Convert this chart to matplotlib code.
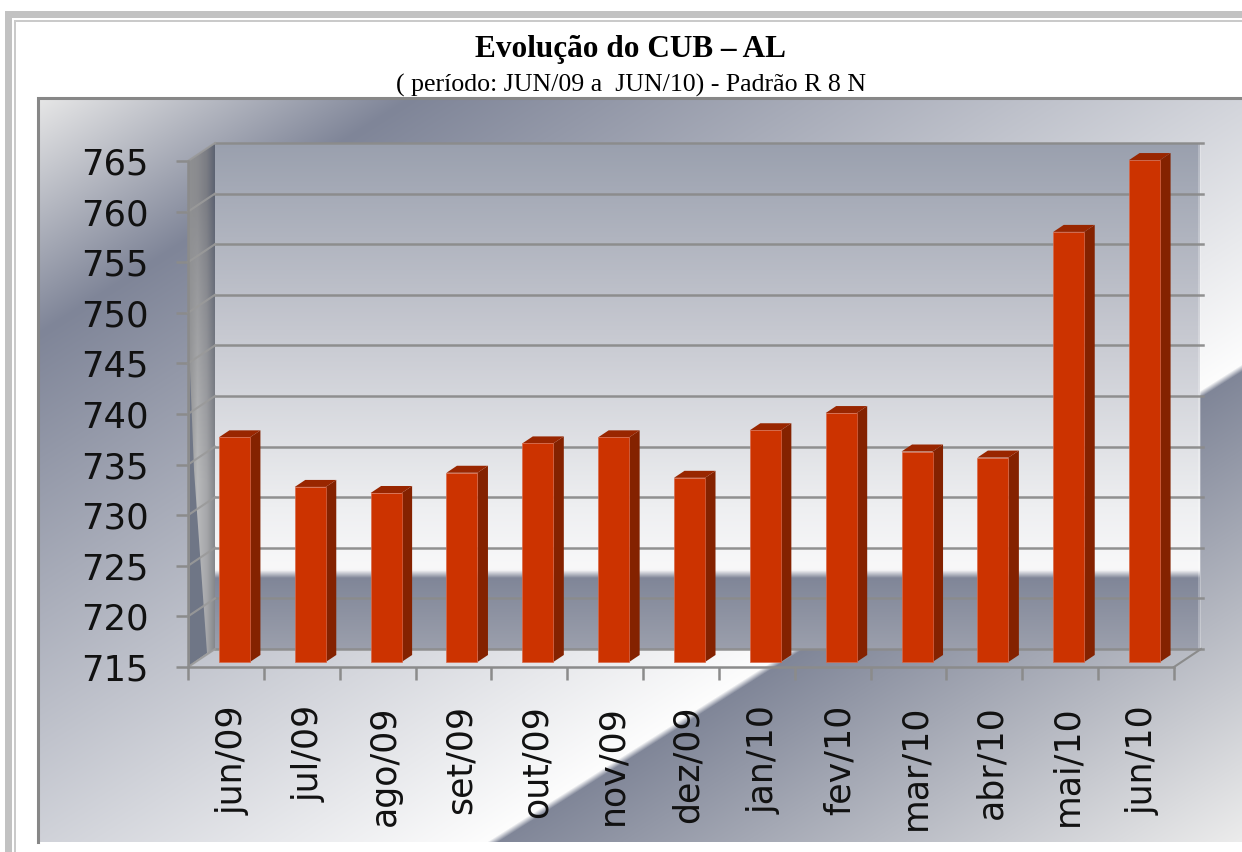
#!/usr/bin/env python3
"""Evolucao do CUB - AL: fake 3D bar chart on an Office style metal background."""
import numpy as np
import matplotlib
matplotlib.use("Agg")
import matplotlib.pyplot as plt
from matplotlib.colors import LinearSegmentedColormap, to_rgb
from matplotlib.patches import Polygon, Rectangle
from matplotlib.transforms import Affine2D

W, H = 1242, 852

months = ["jun/09", "jul/09", "ago/09", "set/09", "out/09", "nov/09", "dez/09",
          "jan/10", "fev/10", "mar/10", "abr/10", "mai/10", "jun/10"]
values = [737.2, 732.3, 731.7, 733.7, 736.6, 737.2, 733.2,
          737.9, 739.6, 735.8, 735.2, 757.5, 764.6]
y_ticks = [715, 720, 725, 730, 735, 740, 745, 750, 755, 760, 765]

# pixel layout of the front plane of the plot
AX_L, AX_R, AX_T, AX_B = 188, 1174, 161, 667
DEPTH_X, DEPTH_Y = 27, 18
GRID = "#8b8b8b"


def ramp(stops):
    return LinearSegmentedColormap.from_list("r", stops, N=512)


fig = plt.figure(figsize=(W / 100, H / 100), dpi=100, facecolor="white")
bg = fig.add_axes([0, 0, 1, 1])
bg.set_xlim(0, W)
bg.set_ylim(H, 0)
bg.axis("off")

# page frame
bg.add_patch(Rectangle((5, 11), W, 7, color="#c2c2c2", lw=0))
bg.add_patch(Rectangle((5, 11), 7, H, color="#c2c2c2", lw=0))
bg.add_patch(Rectangle((14, 20), W, 2, color="#cacaca", lw=0))
bg.add_patch(Rectangle((14, 20), 2, H, color="#cacaca", lw=0))

# chart area, diagonal metal gradient with one nearly hard edge
xx, yy = np.meshgrid(np.arange(37, W) + 0.5, np.arange(97, 842) + 0.5)
d = 0.5346 * xx + 0.8452 * yy
stops_d = [102, 303, 972, 978, 1375]
chan = [
    np.interp(d, stops_d, [0xe8, 0x7f, 0xfd, 0x80, 0xec]),
    np.interp(d, stops_d, [0xe8, 0x85, 0xfd, 0x86, 0xec]),
    np.interp(d, stops_d, [0xe8, 0x98, 0xfd, 0x98, 0xec]),
]
bg.imshow(np.dstack(chan) / 255, extent=(37, W, 842, 97), aspect="auto",
          interpolation="bilinear", zorder=1)
bg.plot([38, 38, W], [842, 98, 98], color="#878787", lw=2.2, zorder=2,
        solid_joinstyle="miter")

# back wall
wall_cmap = ramp([(0, "#9aa0ae"), (0.37, "#c6c8d0"), (0.72, "#eeeff1"),
                  (0.84, "#f8f8f9"), (0.845, "#f4f4f6"), (0.86, "#808698"),
                  (1, "#9b9fac")])
wall_g = np.linspace(0, 1, 512)[:, None]
bg.imshow(wall_g, cmap=wall_cmap,
          extent=(AX_L + DEPTH_X, AX_R + DEPTH_X - 1, AX_B - DEPTH_Y, AX_T - DEPTH_Y),
          aspect="auto", zorder=3)
bg.add_patch(Rectangle((AX_R + DEPTH_X - 3, AX_T - DEPTH_Y), 3, AX_B - AX_T,
                       color="white", alpha=0.25, lw=0, zorder=3.5))

# side wall: horizontal shading that brightens downwards
side = Polygon([(AX_L, AX_T), (AX_L + DEPTH_X, AX_T - DEPTH_Y),
                (AX_L + DEPTH_X, AX_B - DEPTH_Y), (AX_L, AX_B)], closed=True,
               fc="none", ec="none", zorder=3)
bg.add_patch(side)
side_y = np.linspace(0, 1, 128)
side_x = np.linspace(0, 1, 64)
upper = np.array([to_rgb(c) for c in ("#8f9092", "#8a8b8f", "#7a7c83", "#5c6272")])
lower = np.array([to_rgb(c) for c in ("#8f9092", "#b9babb", "#a6a7aa", "#85878b")])
pos = np.array([0, 0.35, 0.7, 1])
side_rows = []
for t in side_y:
    blend = np.clip((t - 0.1) / 0.55, 0, 1)
    row = (1 - blend) * upper + blend * lower
    side_rows.append(np.column_stack([np.interp(side_x, pos, row[:, k]) for k in range(3)]))
im = bg.imshow(np.array(side_rows), extent=(AX_L, AX_L + DEPTH_X, AX_B, AX_T - DEPTH_Y),
               aspect="auto", zorder=3)
im.set_clip_path(side)
bg.add_patch(Polygon([(AX_L + 2, 370), (AX_L + 6, 470), (AX_L + 19, AX_B - 14), (AX_L + 2, AX_B - 2)],
                     closed=True, fc="#6f7686", ec="none", zorder=3.2))
bg.set_xlim(0, W)
bg.set_ylim(H, 0)

# main axes sit on the front plane, ticks come from the real scales
ax = fig.add_axes([AX_L / W, 1 - AX_B / H, (AX_R - AX_L) / W, (AX_B - AX_T) / H])
ax.patch.set_visible(False)
ax.set_xlim(0, len(months))
ax.set_ylim(y_ticks[0], y_ticks[-1])
for name in ("top", "right"):
    ax.spines[name].set_visible(False)
ax.spines["left"].set_color(GRID)
ax.spines["left"].set_linewidth(1.8)
ax.spines["bottom"].set_color(GRID)
ax.spines["bottom"].set_linewidth(1.8)

ax.set_yticks(y_ticks)
ax.tick_params(axis="y", length=8.5, width=1.8, color=GRID, pad=20, labelsize=25.5, labelcolor="#111111")
ax.set_xticks(np.arange(len(months) + 1))
ax.set_xticklabels([])
ax.tick_params(axis="x", length=9, width=1.8, color=GRID)

# data units per pixel
ux = len(months) / (AX_R - AX_L)
uy = (y_ticks[-1] - y_ticks[0]) / (AX_B - AX_T)
back = ax.transData + Affine2D().translate(DEPTH_X, DEPTH_Y)

# grid on the back wall and slanted part on the side wall
for v in y_ticks:
    ax.plot([0, len(months) + 1.5 * ux], [v, v], color=GRID, lw=1.8, transform=back,
            clip_on=False, zorder=2, alpha=0.95)
    ax.plot([0, DEPTH_X * ux], [v, v + DEPTH_Y * uy], color="#9a9a9a", lw=1.5,
            clip_on=False, zorder=2, alpha=0.9)
ax.plot([len(months), len(months) + DEPTH_X * ux], [y_ticks[0], y_ticks[0] + DEPTH_Y * uy],
        color=GRID, lw=1.5, clip_on=False, zorder=2)

# bars: front face plus two shaded polygons
bar_w = 31 * ux
off_x, off_y = 8.5 * ux, 5 * uy
depth_x, depth_y = 10.5 * ux, 7 * uy
base = y_ticks[0] + off_y
for i, v in enumerate(values):
    x0 = i + 0.5 + off_x - bar_w / 2
    x1 = x0 + bar_w
    top = v + off_y
    ax.add_patch(Polygon([(x1, base), (x1 + depth_x, base + depth_y), (x1 + depth_x, top + depth_y), (x1, top)],
                         closed=True, fc="#842200", ec="none", clip_on=False, zorder=4))
    ax.add_patch(Polygon([(x0, top), (x0 + depth_x, top + depth_y), (x1 + depth_x, top + depth_y), (x1, top)],
                         closed=True, fc="#992600", ec="none", clip_on=False, zorder=4))
    ax.add_patch(Rectangle((x0, base), bar_w, v - y_ticks[0], fc="#cc3300", ec="#d9694a", lw=0.5,
                           clip_on=False, zorder=5))
    ax.text(i + 0.5 + 7 * ux, y_ticks[0] - 38 * uy, months[i], rotation=90, ha="center", va="top",
            fontsize=25, color="#111111", clip_on=False)

fig.text(630.5 / W, 1 - 50 / H, "Evolução do CUB – AL", family="Liberation Serif", weight="bold",
         fontsize=22.5, ha="center", va="center", color="black")
fig.text(630.5 / W, 1 - 85 / H, "( período: JUN/09 a  JUN/10) - Padrão R 8 N", family="Liberation Serif",
         fontsize=18.6, ha="center", va="center", color="black")

fig.savefig("out.png", dpi=100)
